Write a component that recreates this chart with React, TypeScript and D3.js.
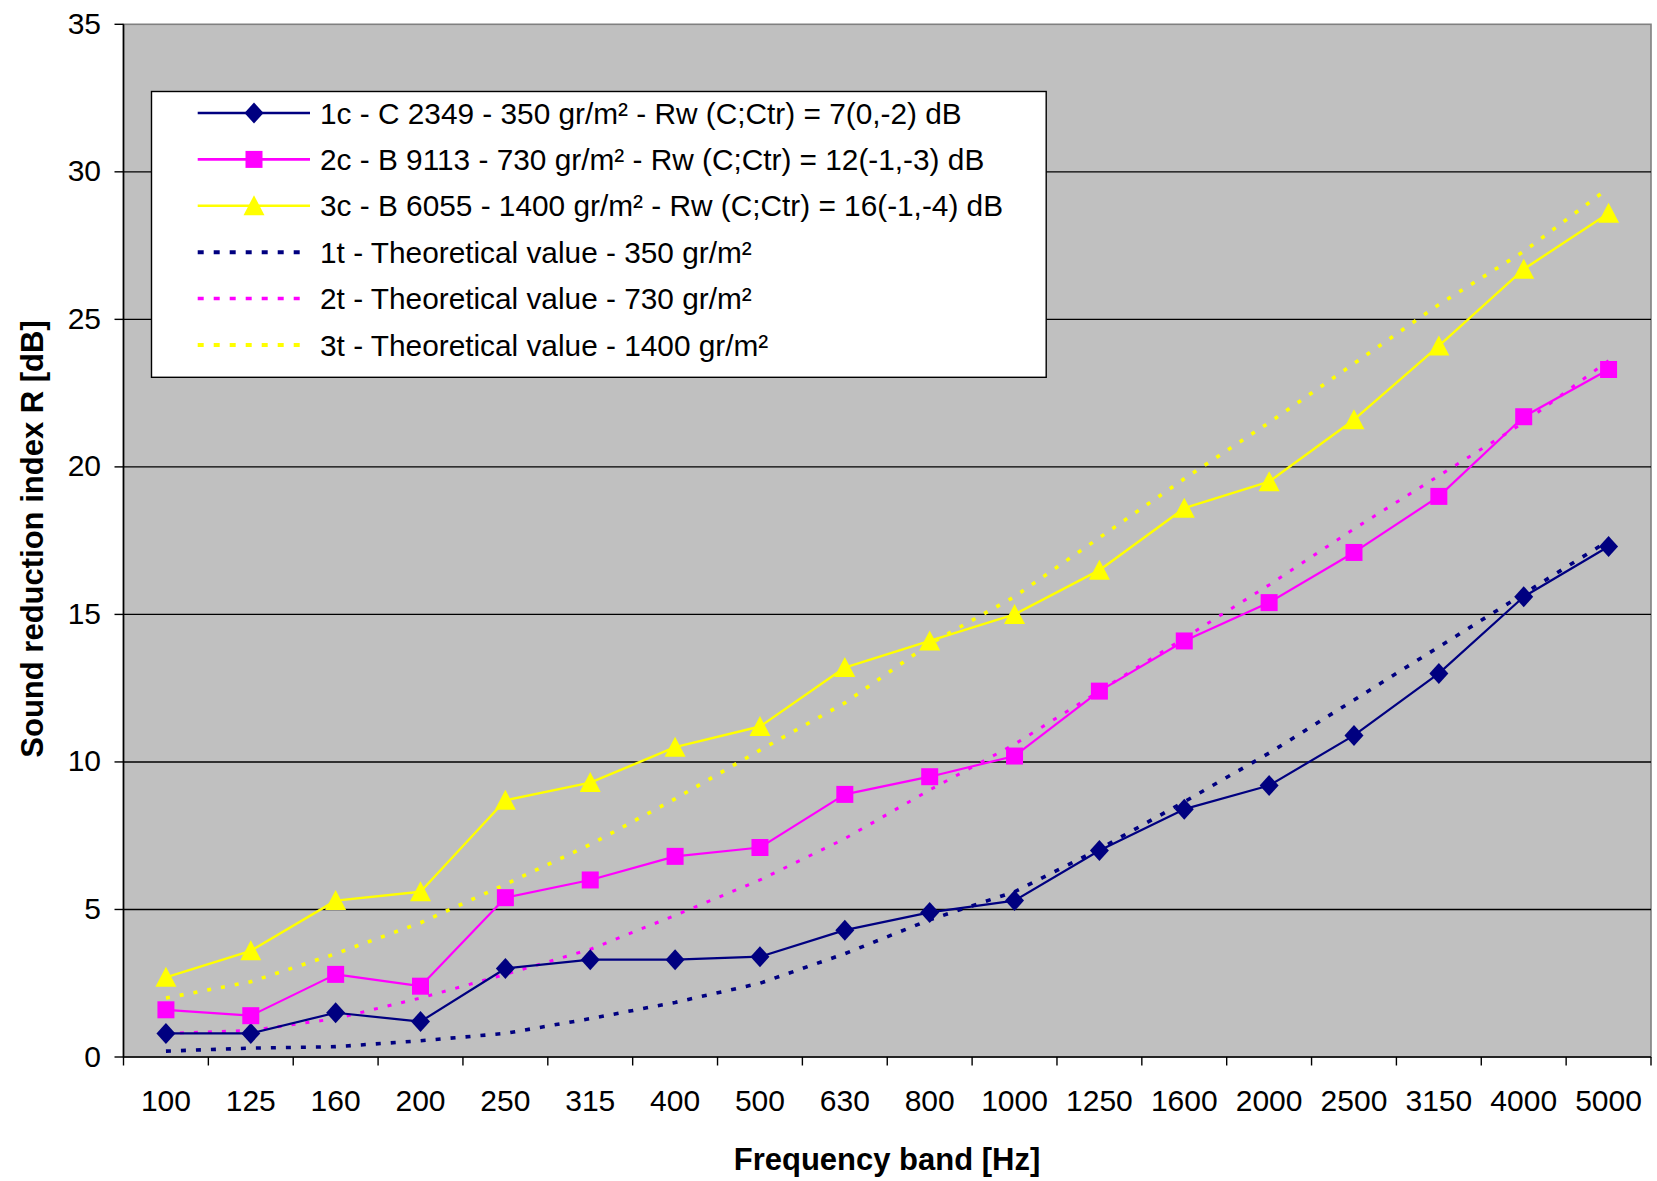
import React from 'react';
import * as d3 from 'd3';

const categories = ['100', '125', '160', '200', '250', '315', '400', '500', '630', '800', '1000', '1250', '1600', '2000', '2500', '3150', '4000', '5000'];

const measured1c = [0.8, 0.8, 1.5, 1.2, 3.0, 3.3, 3.3, 3.4, 4.3, 4.9, 5.3, 7.0, 8.4, 9.2, 10.9, 13.0, 15.6, 17.3];
const measured2c = [1.6, 1.4, 2.8, 2.4, 5.4, 6.0, 6.8, 7.1, 8.9, 9.5, 10.2, 12.4, 14.1, 15.4, 17.1, 19.0, 21.7, 23.3];
const measured3c = [2.7, 3.6, 5.3, 5.6, 8.7, 9.3, 10.5, 11.2, 13.2, 14.1, 15.0, 16.5, 18.6, 19.5, 21.6, 24.1, 26.7, 28.6];
const theory1t = [0.2, 0.3, 0.35, 0.55, 0.8, 1.3, 1.85, 2.5, 3.5, 4.65, 5.6, 7.05, 8.65, 10.3, 12.1, 13.9, 15.7, 17.5];
const theory2t = [0.8, 0.9, 1.3, 2.0, 2.8, 3.65, 4.8, 6.0, 7.4, 9.05, 10.6, 12.4, 14.2, 16.0, 17.9, 19.7, 21.5, 23.6];
const theory3t = [2.0, 2.55, 3.5, 4.55, 5.85, 7.2, 8.75, 10.4, 12.0, 14.0, 15.6, 17.6, 19.6, 21.5, 23.5, 25.5, 27.3, 29.45];

const yTicks = [0, 5, 10, 15, 20, 25, 30, 35];

const legendLabels = [
  '1c - C 2349 - 350 gr/m² - Rw (C;Ctr) = 7(0,-2) dB',
  '2c - B 9113 - 730 gr/m² - Rw (C;Ctr) = 12(-1,-3) dB',
  '3c - B 6055 - 1400 gr/m² - Rw (C;Ctr) = 16(-1,-4) dB',
  '1t - Theoretical value - 350 gr/m²',
  '2t - Theoretical value - 730 gr/m²',
  '3t - Theoretical value - 1400 gr/m²',
];

const NAVY = '#000080';
const MAGENTA = '#FF00FF';
const YELLOW = '#FFFF00';
const FONT = "'Liberation Sans', Arial, Helvetica, sans-serif";

type Marker = 'diamond' | 'square' | 'triangle' | null;

const series: { values: number[]; color: string; dotted: boolean; marker: Marker; width: number; dash?: string }[] = [
  { values: theory1t, color: NAVY, dotted: true, marker: null, width: 3.6, dash: '5 10' },
  { values: theory2t, color: MAGENTA, dotted: true, marker: null, width: 3, dash: '4 10' },
  { values: theory3t, color: YELLOW, dotted: true, marker: null, width: 3.6, dash: '4 10' },
  { values: measured1c, color: NAVY, dotted: false, marker: 'diamond', width: 2.2 },
  { values: measured2c, color: MAGENTA, dotted: false, marker: 'square', width: 2.2 },
  { values: measured3c, color: YELLOW, dotted: false, marker: 'triangle', width: 2.4 },
];

const legendOrder = [3, 4, 5, 0, 1, 2];

function markerPath(m: Marker): string {
  if (m === 'diamond') return 'M0,-10.5L9.5,0L0,10.5L-9.5,0Z';
  if (m === 'square') return 'M-8.5,-8.5H8.5V8.5H-8.5Z';
  if (m === 'triangle') return 'M0,-10.5L10.5,9.5L-10.5,9.5Z';
  return '';
}

export default function App() {
  const W = 1657;
  const H = 1181;
  const left = 123.5;
  const right = 1651;
  const top = 24.3;
  const bottom = 1057;

  const x = d3.scaleBand<string>().domain(categories).range([left, right]).padding(0);
  const y = d3.scaleLinear().domain([0, 35]).range([bottom, top]);
  const cx = (i: number) => (x(categories[i]) as number) + x.bandwidth() / 2;
  const line = d3
    .line<number>()
    .x((_, i) => cx(i))
    .y((d) => y(d));

  const boundaries = categories.map((c) => x(c) as number).concat([right]);

  const legX = 151.5;
  const legY = 91.5;
  const legW = 894.7;
  const legH = 285.8;
  const rowY = (i: number) => 113 + i * 46.4;

  return (
    <svg
      width={W}
      height={H}
      viewBox={`0 0 ${W} ${H}`}
      style={{ position: 'absolute', left: 0, top: 0, background: '#fff' }}
      fontFamily={FONT}
    >
      <rect x={0} y={0} width={W} height={H} fill="#fff" />
      <rect x={left} y={top} width={right - left} height={bottom - top} fill="#C0C0C0" stroke="#808080" strokeWidth={1.6} />
      {yTicks
        .filter((t) => t > 0 && t < 35)
        .map((t) => (
          <line key={'g' + t} x1={left} x2={right} y1={y(t)} y2={y(t)} stroke="#000" strokeWidth={1.4} />
        ))}
      <line x1={left} x2={left} y1={top} y2={bottom} stroke="#000" strokeWidth={1.6} />
      <line x1={left} x2={right} y1={bottom} y2={bottom} stroke="#000" strokeWidth={1.6} />
      {yTicks.map((t) => (
        <g key={'y' + t}>
          <line x1={114.5} x2={left} y1={y(t)} y2={y(t)} stroke="#000" strokeWidth={1.4} />
          <text x={101} y={y(t) + 9.5} fontSize={30} textAnchor="end" fill="#000">
            {t}
          </text>
        </g>
      ))}
      {boundaries.map((b, i) => (
        <line key={'xt' + i} x1={b} x2={b} y1={bottom} y2={bottom + 8.5} stroke="#000" strokeWidth={1.4} />
      ))}
      {categories.map((c, i) => (
        <text key={'xl' + c} x={cx(i)} y={1111} fontSize={30} textAnchor="middle" fill="#000">
          {c}
        </text>
      ))}
      {series.map((s, si) => (
        <g key={'s' + si}>
          <path
            d={line(s.values) || ''}
            fill="none"
            stroke={s.color}
            strokeWidth={s.width}
            strokeDasharray={s.dotted ? s.dash : undefined}
            strokeLinejoin="round"
          />
          {s.marker &&
            s.values.map((v, i) => (
              <path
                key={'m' + i}
                d={markerPath(s.marker)}
                transform={`translate(${cx(i)},${y(v)})`}
                fill={s.color}
              />
            ))}
        </g>
      ))}
      <rect x={legX} y={legY} width={legW} height={legH} fill="#fff" stroke="#000" strokeWidth={1.4} />
      {legendOrder.map((si, row) => {
        const s = series[si];
        const ry = rowY(row);
        return (
          <g key={'leg' + row}>
            <line
              x1={197.7}
              x2={s.dotted ? 304 : 310}
              y1={ry}
              y2={ry}
              stroke={s.color}
              strokeWidth={s.dotted ? s.width + 0.5 : 2.6}
              strokeDasharray={s.dotted ? '6 10' : undefined}
            />
            {s.marker && <path d={markerPath(s.marker)} transform={`translate(254,${ry})`} fill={s.color} />}
            <text x={320} y={ry + 10.5} fontSize={29.8} fill="#000">
              {legendLabels[row]}
            </text>
          </g>
        );
      })}
      <text
        transform="translate(43,539) rotate(-90)"
        fontSize={31}
        fontWeight="bold"
        textAnchor="middle"
        fill="#000"
      >
        Sound reduction index R [dB]
      </text>
      <text x={887} y={1170} fontSize={31} fontWeight="bold" textAnchor="middle" fill="#000">
        Frequency band [Hz]
      </text>
    </svg>
  );
}
